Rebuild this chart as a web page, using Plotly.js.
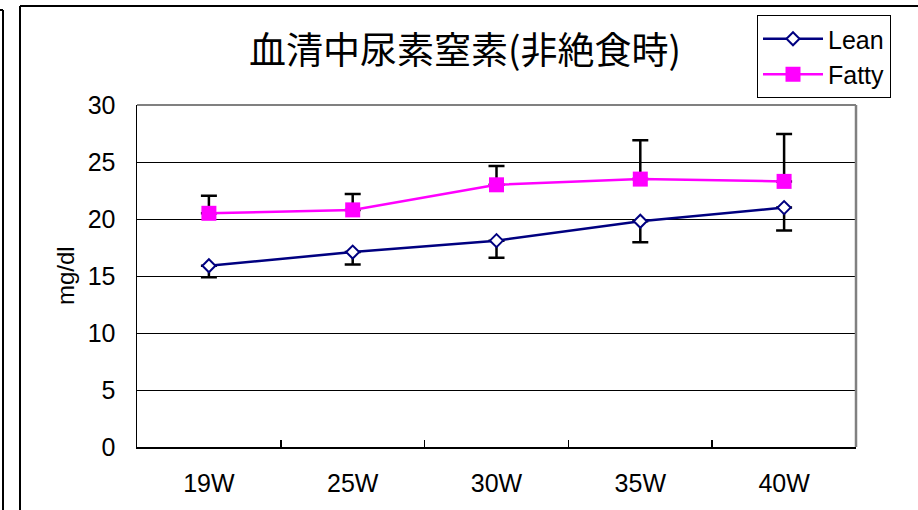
<!DOCTYPE html>
<html>
<head>
<meta charset="utf-8">
<script src="https://cdn.plot.ly/plotly-3.0.1.min.js"></script>
<style>
html,body{margin:0;padding:0;background:#fff;}
#chart{width:918px;height:510px;}
</style>
</head>
<body>
<div id="chart"></div>
<script>
var categories = ["19W", "25W", "30W", "35W", "40W"];
var leanValues = [15.9, 17.1, 18.1, 19.8, 21.0];
var leanErrMinus = [1.0, 1.1, 1.5, 1.85, 2.0];
var fattyValues = [20.5, 20.8, 23.0, 23.5, 23.3];
var fattyErrPlus = [1.55, 1.4, 1.65, 3.4, 4.15];
var zeros = [0, 0, 0, 0, 0];
var titleText = "血清中尿素窒素(非絶食時)";
var yTitle = "mg/dl";

var latin = "Liberation Sans, Arial, sans-serif";

var traces = [
  {
    type: "scatter", mode: "lines+markers", name: "Lean",
    x: categories, y: leanValues,
    line: {color: "#000080", width: 2.5},
    marker: {symbol: "diamond", size: 10, color: "#ffffff", line: {color: "#000080", width: 2}},
    error_y: {type: "data", symmetric: false, array: zeros, arrayminus: leanErrMinus,
              color: "#000000", thickness: 2.5, width: 8}
  },
  {
    type: "scatter", mode: "lines+markers", name: "Fatty",
    x: categories, y: fattyValues,
    line: {color: "#FF00FF", width: 2.5},
    marker: {symbol: "square", size: 15, color: "#FF00FF"},
    error_y: {type: "data", symmetric: false, array: fattyErrPlus, arrayminus: zeros,
              color: "#000000", thickness: 2.5, width: 8}
  }
];

function px2x(px){ return (px - 137) / 719; }
function py2y(py){ return (447 - py) / 342; }

var layout = {
  width: 918, height: 510,
  margin: {l: 137, r: 62, t: 105, b: 63, pad: 0},
  paper_bgcolor: "#ffffff", plot_bgcolor: "#ffffff",
  font: {family: latin, size: 25, color: "#000000"},
  title: {
    text: titleText,
    font: {family: "Noto Sans CJK JP, sans-serif", size: 37, color: "#000"},
    xref: "container", yref: "container",
    x: 465/918, xanchor: "center", y: 1 - 51/510, yanchor: "middle"
  },
  showlegend: true,
  legend: {
    x: px2x(757), y: py2y(15), xanchor: "left", yanchor: "top",
    bordercolor: "#000000", borderwidth: 1, bgcolor: "#ffffff",
    font: {family: latin, size: 25, color: "#000"},
    itemwidth: 60,
    entrywidth: 140, entrywidthmode: "pixels",
    tracegroupgap: 0
  },
  xaxis: {
    type: "category", range: [-0.5, 4.5], autorange: false,
    showline: true, linecolor: "#000000", linewidth: 2,
    ticks: "inside", tickson: "boundaries", ticklen: 7, tickwidth: 1.5, tickcolor: "#000",
    showgrid: false, zeroline: false,
    ticklabelstandoff: 13,
    tickfont: {family: latin, size: 25, color: "#000"},
    fixedrange: true
  },
  yaxis: {
    range: [0, 30], autorange: false, dtick: 5, tick0: 0,
    showline: true, linecolor: "#000000", linewidth: 1.5,
    ticks: "inside", ticklen: 6, tickcolor: "#000",
    showgrid: true, gridcolor: "#000000", gridwidth: 1,
    zeroline: false,
    ticklabelstandoff: 15,
    tickfont: {family: latin, size: 25, color: "#000"},
    fixedrange: true
  },
  annotations: [
    {text: yTitle, xref: "paper", yref: "paper", x: px2x(65), y: py2y(276),
     xanchor: "center", yanchor: "middle", textangle: -90, showarrow: false,
     font: {family: latin, size: 24, color: "#000"}}
  ],
  shapes: [
    {type: "line", xref: "paper", yref: "paper", x0: 0, x1: 1, y0: 1, y1: 1,
     line: {color: "#808080", width: 2}, layer: "above"},
    {type: "line", xref: "paper", yref: "paper", x0: 1, x1: 1, y0: 0, y1: 1,
     line: {color: "#808080", width: 2.5}, layer: "above"},
    {type: "line", xref: "paper", yref: "paper", x0: px2x(20), x1: px2x(20), y0: py2y(6), y1: py2y(520),
     line: {color: "#000000", width: 2}},
    {type: "line", xref: "paper", yref: "paper", x0: px2x(20), x1: px2x(930), y0: py2y(6), y1: py2y(6),
     line: {color: "#000000", width: 2}},
    {type: "line", xref: "paper", yref: "paper", x0: px2x(3), x1: px2x(3), y0: py2y(10), y1: py2y(520),
     line: {color: "#000000", width: 2}},
    {type: "line", xref: "paper", yref: "paper", x0: px2x(-5), x1: px2x(3), y0: py2y(10), y1: py2y(10),
     line: {color: "#000000", width: 2}}
  ]
};

Plotly.newPlot("chart", traces, layout, {displayModeBar: false, staticPlot: true});
</script>
</body>
</html>
